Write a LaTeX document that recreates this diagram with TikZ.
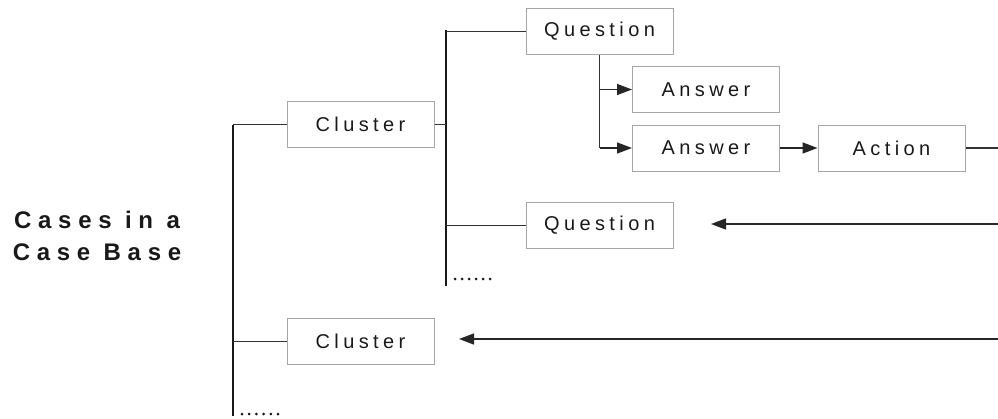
\documentclass[tikz,border=0pt]{standalone}
\usepackage{fontspec}
\setmainfont{Liberation Sans}
\newfontfamily\spacedfont[LetterSpace=22]{Liberation Sans}
\newfontfamily\spacedbold[LetterSpace=28]{Liberation Sans Bold}
\usetikzlibrary{arrows.meta}
\begin{document}
\begin{tikzpicture}[x=1pt,y=-1pt,
  box/.style={draw=black!35,line width=1pt,minimum width=147pt,minimum height=46pt,
    inner sep=0pt,font=\spacedfont\fontsize{20}{22}\selectfont,text=black!90},
  trunk/.style={draw=black!90,line width=2pt},
  branch/.style={draw=black!80,line width=1.4pt},
  arr/.style={draw=black!85,line width=1.4pt,-{Triangle[length=15pt,width=11pt]}},
  dotmark/.style={fill=black!90}]
\useasboundingbox (0,0) rectangle (998,418);

% title
\node[font=\spacedbold\fontsize{24}{32}\selectfont,align=center,text=black!90] (title) at (97,236)
  {Cases in a\\Case Base};

% boxes
\node[box] (c1) at (360.5,124.5) {Cluster};
\node[box] (c2) at (360.5,341.5) {Cluster};
\node[box] (q1) at (599.5,31.5) {Question};
\node[box] (q2) at (599.5,225.5) {Question};
\node[box] (a1) at (706,89.5) {Answer};
\node[box] (a2) at (706,148) {Answer};
\node[box] (act) at (891.5,148) {Action};

% joints and free ends
\coordinate (t0) at (233,124.5);
\coordinate (t1) at (233,416);
\coordinate (s0) at (446,30);
\coordinate (s1) at (446,286);
\coordinate (qb) at (599.5,148);
\coordinate (re) at (998,148);
\coordinate (in1) at (998,224);
\coordinate (in2) at (998,339);
\coordinate (tip1) at (711,224);
\coordinate (tip2) at (459,339);

% main trunk
\draw[trunk] (t0) -- (t1);
\draw[branch] (t0) -- (c1.west);
\draw[branch] (c2.west) -- (c2.west -| t0);
% "more clusters" ellipsis
\foreach \i in {0,...,5} \fill[dotmark] (242+7.2*\i,414) circle (1.5pt);

% first cluster subtree
\draw[trunk] (s0) -- (s1);
\draw[branch] (c1.east) -- (c1.east -| s0);
\draw[branch] (q1.west) -- (q1.west -| s0);
\draw[branch] (q2.west) -- (q2.west -| s0);
% "more questions" ellipsis
\foreach \i in {0,...,5} \fill[dotmark] (455+7*\i,279) circle (1.5pt);

% question to answers
\draw[branch,line width=1.7pt] (q1.south) -- (qb);
\draw[arr] (a1.west -| q1.south) -- (a1.west);
\draw[arr] (a2.west -| q1.south) -- (a2.west);
\draw[arr] (a2.east) -- (act.west);
\draw[branch,line width=1.8pt] (act.east) -- (re);

% return arrows
\draw[arr] (in1) -- (tip1);
\draw[arr] (in2) -- (tip2);
\end{tikzpicture}
\end{document}
